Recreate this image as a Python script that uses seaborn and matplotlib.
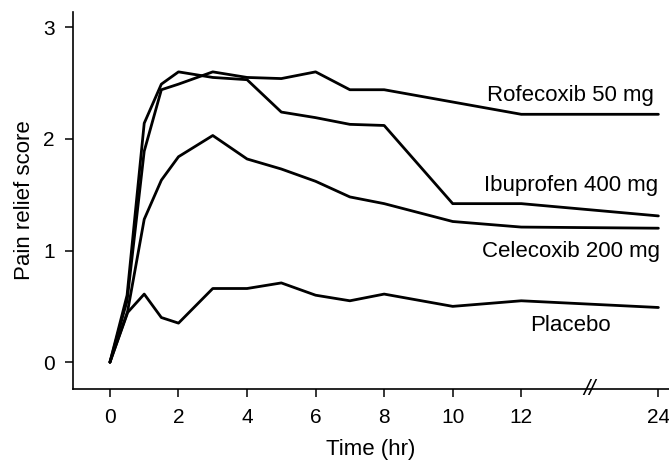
import pandas as pd
import matplotlib
matplotlib.use("Agg")
import matplotlib.pyplot as plt
import seaborn as sns

# data
times = [0, 0.5, 1, 1.5, 2, 3, 4, 5, 6, 7, 8, 10, 12, 24]
rofecoxib = [0, 0.55, 1.89, 2.44, 2.49, 2.60, 2.55, 2.54, 2.60, 2.44, 2.44, 2.33, 2.22, 2.22]
ibuprofen = [0, 0.60, 2.14, 2.49, 2.60, 2.55, 2.53, 2.24, 2.19, 2.13, 2.12, 1.42, 1.42, 1.31]
celecoxib = [0, 0.43, 1.28, 1.63, 1.84, 2.03, 1.82, 1.73, 1.62, 1.48, 1.42, 1.26, 1.21, 1.20]
placebo = [0, 0.44, 0.61, 0.40, 0.35, 0.66, 0.66, 0.71, 0.60, 0.55, 0.61, 0.50, 0.55, 0.49]
groups = ["Rofecoxib 50 mg", "Ibuprofen 400 mg", "Celecoxib 200 mg", "Placebo"]
x_ticks = [0, 2, 4, 6, 8, 10, 12, 24]
y_ticks = [0, 1, 2, 3]

# broken axis: 24 hr is drawn at position 16
def axis_pos(t):
    return t if t <= 12 else 16

rows = []
for name, vals in zip(groups, [rofecoxib, ibuprofen, celecoxib, placebo]):
    for t, v in zip(times, vals):
        rows.append({"group": name, "pos": axis_pos(t), "score": v})
df = pd.DataFrame(rows)

sns.set_style("ticks")
plt.rcParams["font.family"] = ["Liberation Sans", "DejaVu Sans"]
plt.rcParams["text.color"] = "black"
plt.rcParams["axes.labelcolor"] = "black"
plt.rcParams["xtick.color"] = "black"
plt.rcParams["ytick.color"] = "black"

fig = plt.figure(figsize=(6.69, 4.62), dpi=100)
ax = fig.add_axes([0.109, 0.158, 0.891, 0.816])

sns.lineplot(data=df, x="pos", y="score", hue="group", palette=["black"] * 4,
             linewidth=2.0, legend=False, ax=ax, sort=False)

ax.set_xlim(-1.08, 16.31)
ax.set_ylim(-0.24, 3.136)
ax.set_xticks([axis_pos(t) for t in x_ticks])
ax.set_xticklabels([str(t) for t in x_ticks])
ax.set_yticks(y_ticks)
ax.set_yticklabels([str(t) for t in y_ticks])
ax.tick_params(axis="both", labelsize=15, width=1.1, length=6)
ax.tick_params(axis="x", pad=8)
ax.tick_params(axis="y", pad=7)

for side in ["top", "right"]:
    ax.spines[side].set_visible(False)
for side in ["left", "bottom"]:
    ax.spines[side].set_linewidth(1.2)
    ax.spines[side].set_color("black")

ax.set_xlabel("Time (hr)", fontsize=16, labelpad=8.5)
ax.set_ylabel("Pain relief score", fontsize=16, labelpad=6)

# curve labels
ax.text(15.87, 2.34, groups[0], ha="right", va="baseline", fontsize=16)
ax.text(15.98, 1.536, groups[1], ha="right", va="baseline", fontsize=16)
ax.text(16.05, 0.945, groups[2], ha="right", va="baseline", fontsize=16)
ax.text(13.44, 0.283, groups[3], ha="center", va="baseline", fontsize=16)

# axis break mark
ax.text(14, 0, "//", transform=ax.get_xaxis_transform(), ha="center", va="center",
        fontsize=16, fontstyle="italic")

fig.savefig("out.png", dpi=100)
